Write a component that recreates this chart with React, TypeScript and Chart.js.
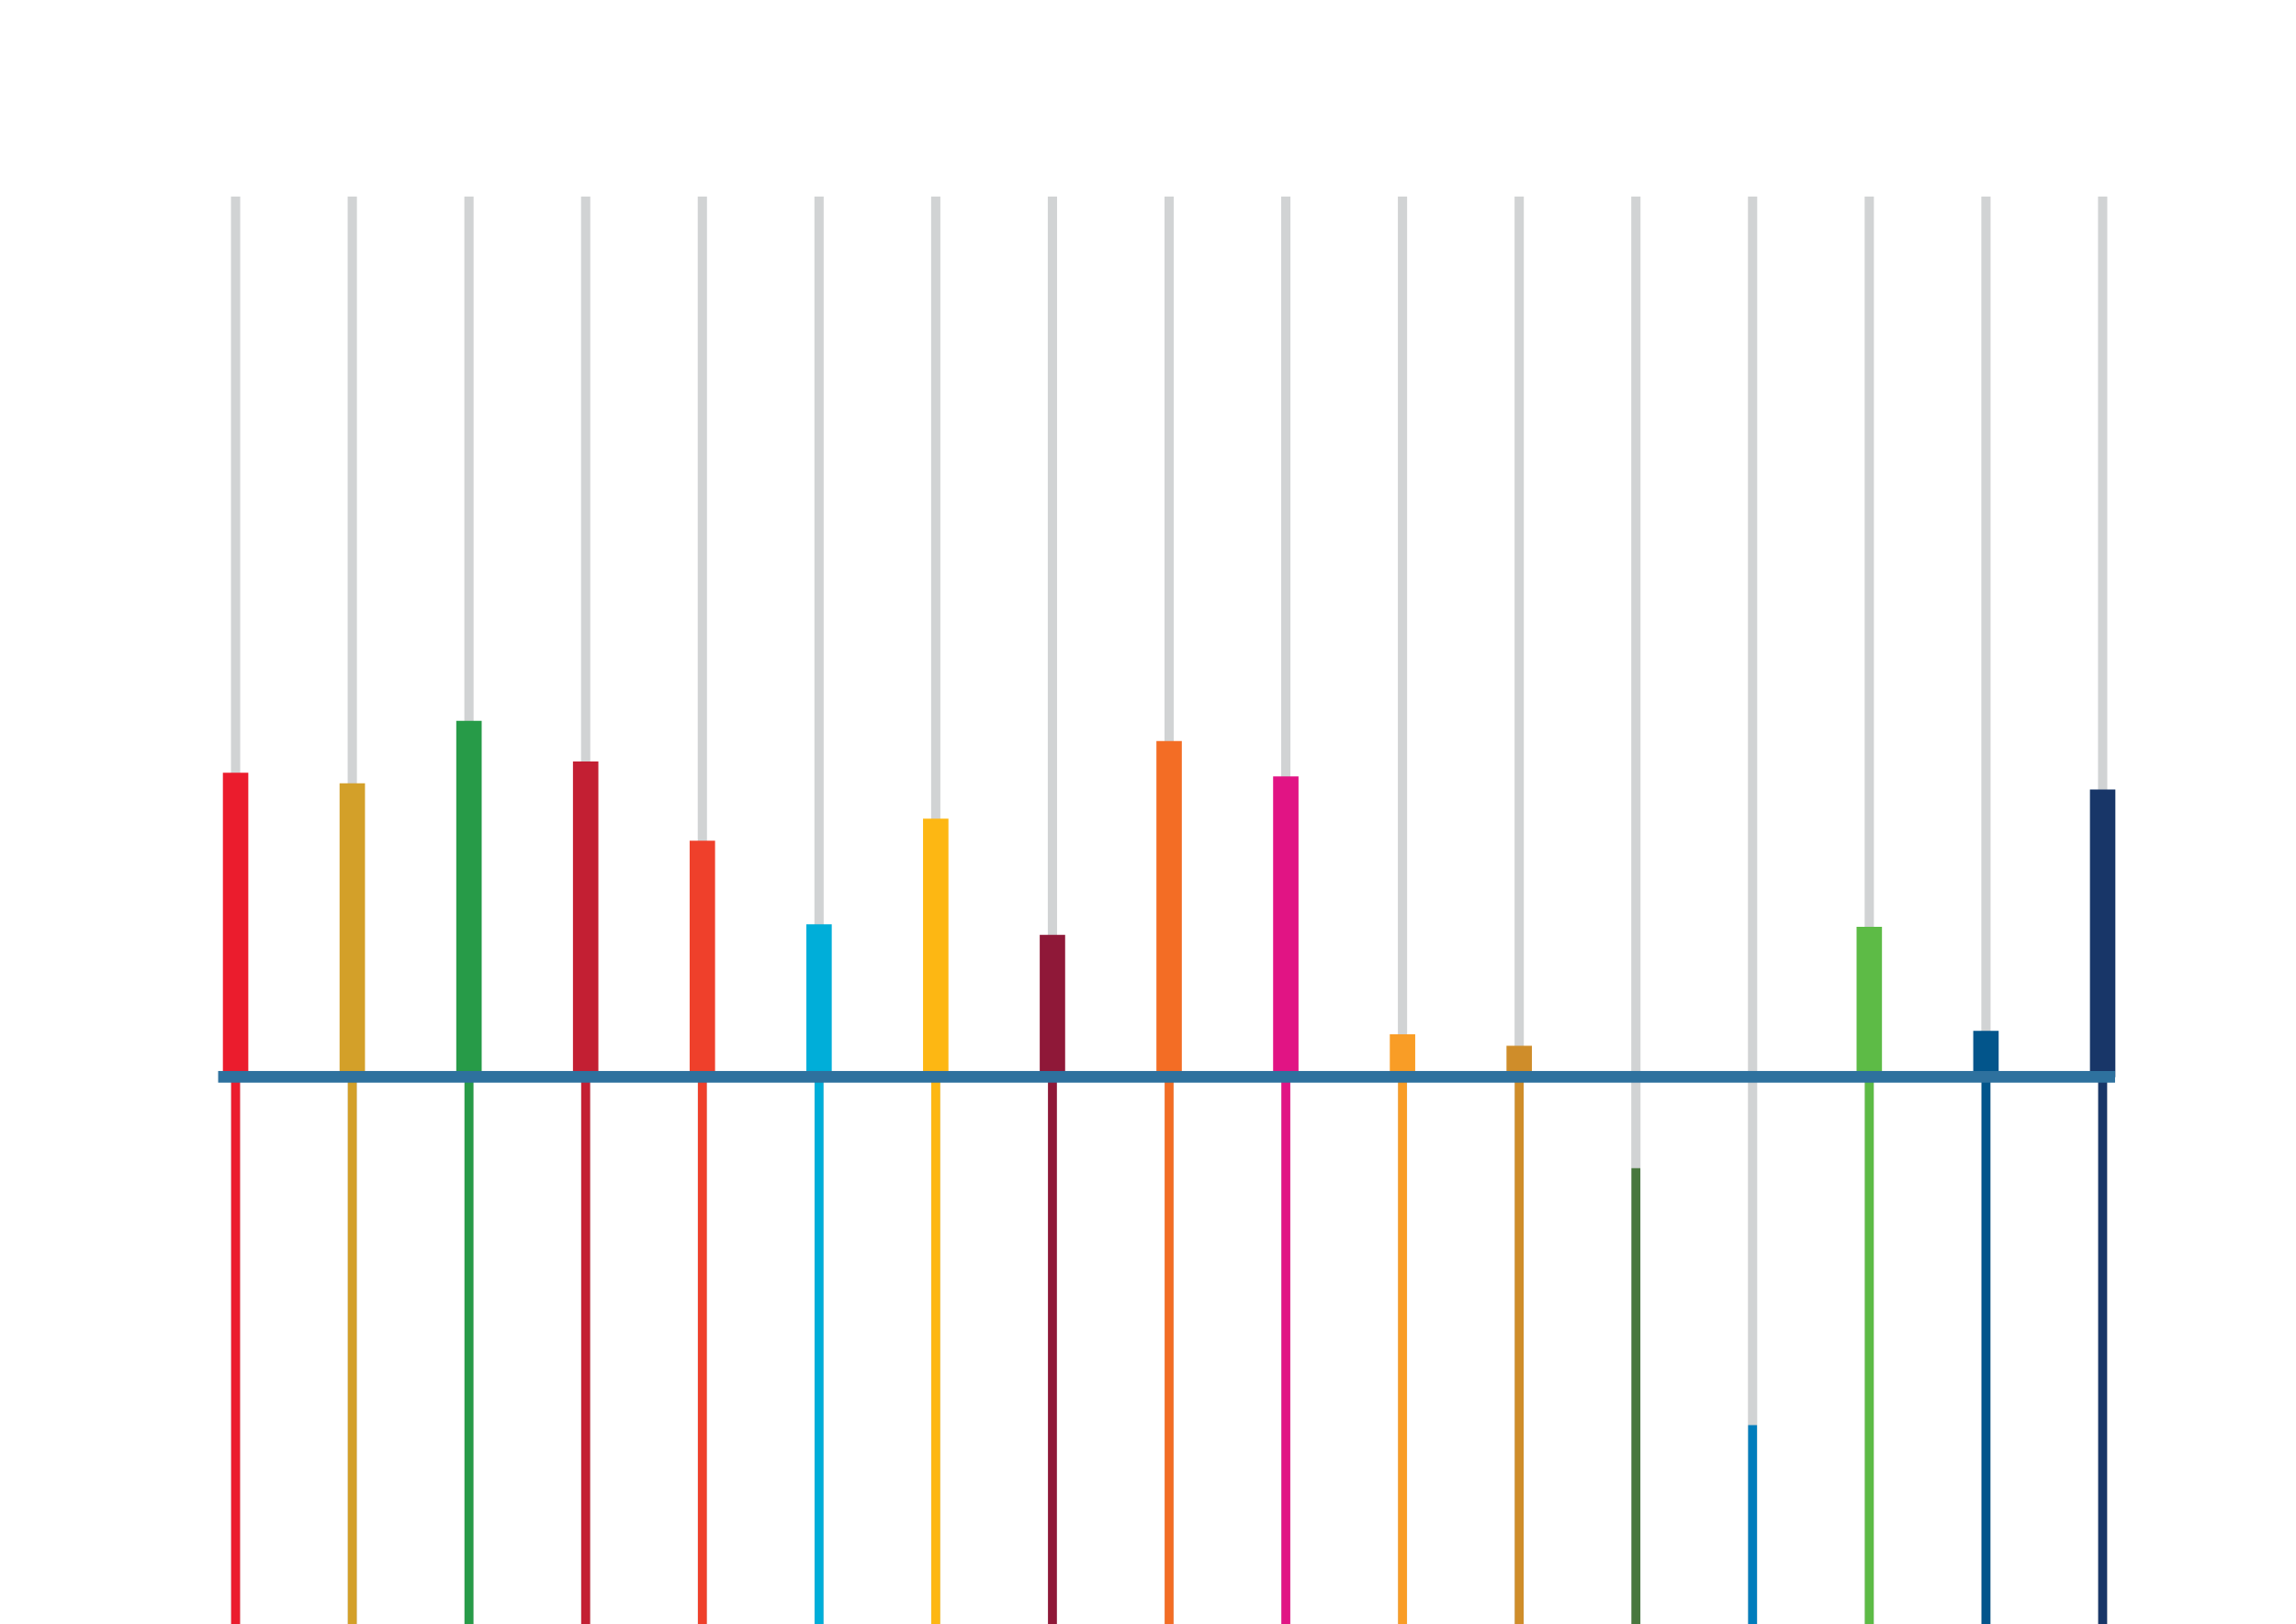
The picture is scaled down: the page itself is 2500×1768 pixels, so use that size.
import React, { useEffect, useRef } from "react";
import { Chart, registerables } from "chart.js";

Chart.register(...registerables);

const goals: string[] = [
  "1", "2", "3", "4", "5", "6", "7", "8", "9",
  "10", "11", "12", "13", "14", "15", "16", "17",
];

// value of the thick coloured bar above the axis
const barValues: number[] = [
  34.5, 33.3, 40.4, 35.8, 26.8, 17.3, 29.3, 16.1, 38.1,
  34.1, 4.8, 3.5, 0, 0, 17.0, 5.2, 32.6,
];

// upper end of the thin coloured line below the axis
const lowerThresholds: number[] = [
  0, 0, 0, 0, 0, 0, 0, 0, 0,
  0, 0, 0, -10.4, -39.6, 0, 0, 0,
];

const rangeTop = 100;
const rangeBottom = -100;
const yMin = -62.16;

const goalColors: string[] = [
  "#EB1C2D", "#D3A029", "#279B48", "#C31F33", "#EF402B", "#00AED9",
  "#FDB713", "#8F1838", "#F36D25", "#E11484", "#F99D26", "#CF8D2A",
  "#48773E", "#007DBC", "#5DBB46", "#02558B", "#183668",
];

const GRAY = "#D1D3D4";
const AXIS = "#2E719E";

const axisLinePlugin = {
  id: "axisLine",
  afterDatasetsDraw(chart: any) {
    const { ctx, scales } = chart;
    const xs = scales.x;
    const ys = scales.y;
    const y0 = ys.getPixelForValue(0);
    const left = xs.getPixelForValue(0) - 19;
    const right = xs.getPixelForValue(goals.length - 1) + 13.5;
    ctx.save();
    ctx.fillStyle = AXIS;
    ctx.fillRect(left, y0 - 6.35, right - left, 12.7);
    ctx.restore();
  },
};

export default function App() {
  const canvasRef = useRef<HTMLCanvasElement | null>(null);

  useEffect(() => {
    if (!canvasRef.current) return;
    const chart = new Chart(canvasRef.current, {
      type: "bar",
      data: {
        labels: goals,
        datasets: [
          {
            label: "range",
            data: goals.map(() => [rangeBottom, rangeTop]) as any,
            backgroundColor: GRAY,
            barThickness: 9.4,
            grouped: false,
            order: 3,
            clip: 0,
          } as any,
          {
            label: "below",
            data: lowerThresholds.map((t) => [rangeBottom, t]) as any,
            backgroundColor: goalColors,
            barThickness: 9,
            grouped: false,
            order: 2,
            clip: 0,
          } as any,
          {
            label: "score",
            data: barValues.map((v) => [0, v]) as any,
            backgroundColor: goalColors,
            barThickness: 27,
            grouped: false,
            order: 1,
            clip: 0,
          } as any,
        ],
      },
      options: {
        animation: false,
        responsive: true,
        maintainAspectRatio: false,
        devicePixelRatio: 1,
        layout: { padding: { top: 214, bottom: 0, left: 193, right: 147 } },
        plugins: {
          legend: { display: false },
          tooltip: { enabled: false },
        },
        scales: {
          x: { display: false, offset: true, grid: { display: false } },
          y: { display: false, min: yMin, max: rangeTop, grid: { display: false } },
        },
      },
      plugins: [axisLinePlugin],
    });
    return () => chart.destroy();
  }, []);

  return (
    <div
      style={{
        position: "fixed",
        left: 0,
        top: 0,
        width: 2500,
        height: 1768,
        background: "#ffffff",
      }}
    >
      <canvas ref={canvasRef} />
    </div>
  );
}
